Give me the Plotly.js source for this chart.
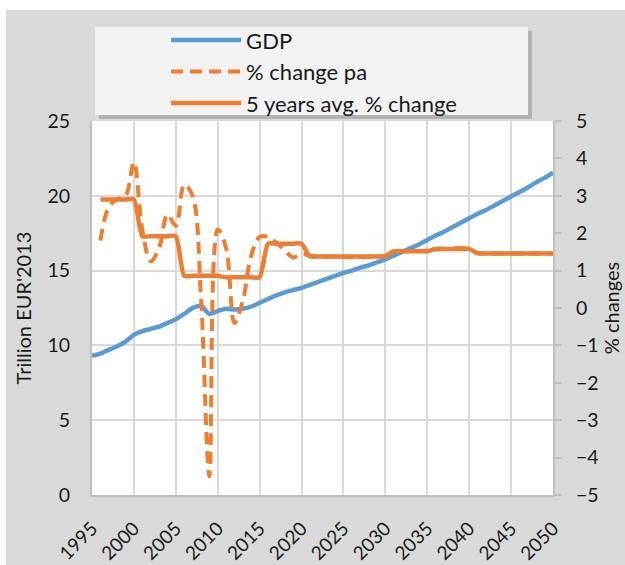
<!DOCTYPE html>
<html><head><meta charset="utf-8">
<script src="https://cdn.plot.ly/plotly-3.0.1.min.js"></script>
<style>html,body{margin:0;padding:0;background:#fff;}#chart{width:625px;height:565px;}</style>
</head><body><div id="chart"></div>
<script>
const years = [1995,1996,1997,1998,1999,2000,2001,2002,2003,2004,2005,2006,2007,2008,2009,2010,2011,2012,2013,2014,2015,2016,2017,2018,2019,2020,2021,2022,2023,2024,2025,2026,2027,2028,2029,2030,2031,2032,2033,2034,2035,2036,2037,2038,2039,2040,2041,2042,2043,2044,2045,2046,2047,2048,2049,2050];
const gdp = [9.3,9.45,9.7,9.95,10.25,10.7,10.95,11.1,11.25,11.5,11.75,12.1,12.5,12.65,12.1,12.3,12.45,12.4,12.45,12.6,12.85,13.1,13.35,13.55,13.7,13.85,14.05,14.25,14.45,14.65,14.85,15.0,15.2,15.35,15.55,15.75,16.0,16.25,16.5,16.75,17.05,17.35,17.6,17.9,18.2,18.5,18.8,19.05,19.35,19.65,19.95,20.25,20.55,20.9,21.2,21.55];
const pctChange = [null,1.8,2.7,2.9,3.0,3.9,2.1,1.25,1.6,2.5,2.2,3.3,3.0,0.3,-4.5,2.1,1.6,-0.4,0.2,1.4,1.9,1.9,1.75,1.55,1.35,1.45,1.4,1.38,1.38,1.37,1.37,1.36,1.36,1.37,1.38,1.4,1.5,1.52,1.52,1.53,1.52,1.56,1.58,1.6,1.6,1.58,1.47,1.47,1.46,1.46,1.46,1.46,1.46,1.46,1.46,1.46];
const avg5 = [null,2.9,2.9,2.9,2.9,2.9,1.92,1.92,1.92,1.92,1.92,0.86,0.86,0.86,0.86,0.86,0.82,0.82,0.82,0.82,0.82,1.72,1.72,1.72,1.72,1.72,1.38,1.38,1.38,1.38,1.38,1.38,1.38,1.38,1.38,1.38,1.52,1.52,1.52,1.52,1.52,1.58,1.58,1.58,1.58,1.58,1.46,1.46,1.46,1.46,1.46,1.46,1.46,1.46,1.46,1.46];
const seriesNames = ['GDP', '% change pa', '5 years avg. % change'];
const leftTitle = "Trillion EUR'2013";
const rightTitle = '% changes';

const FONT = 'Lato, "Open Sans", sans-serif';
const blue = '#5b9bd5', orange = '#ed7d31';
const txt = '#1a1a1a';

const traces = [
  {x: years, y: gdp, name: seriesNames[0], type: 'scatter', mode: 'lines', yaxis: 'y',
   line: {color: blue, width: 4.5, shape: 'spline', smoothing: 0.6}},
  {x: years, y: pctChange, name: seriesNames[1], type: 'scatter', mode: 'lines', yaxis: 'y2',
   line: {color: orange, width: 4, dash: '12px,7px', shape: 'spline', smoothing: 1}},
  {x: years, y: avg5, name: seriesNames[2], type: 'scatter', mode: 'lines', yaxis: 'y2',
   line: {color: orange, width: 4.5, shape: 'spline', smoothing: 0.6}}
];

const W = 461, H = 374; // plot area px
const layout = {
  width: 625, height: 565,
  margin: {l: 92, r: 72, t: 121, b: 70},
  paper_bgcolor: '#d9d9d9', plot_bgcolor: '#ffffff',
  font: {family: FONT, size: 19, color: txt},
  showlegend: true,
  legend: {x: 0.1607, y: 1.2724, xanchor: 'left', yanchor: 'top', bgcolor: 'rgba(0,0,0,0)',
           font: {family: FONT, size: 22, color: txt}, itemwidth: 70, tracegroupgap: 0},
  xaxis: {range: [1995, 2050], tickmode: 'linear', tick0: 1995, dtick: 5, tickangle: -45,
          showgrid: true, gridcolor: '#d9d9d9', gridwidth: 2, zeroline: false,
          showline: true, linecolor: '#bfbfbf', linewidth: 2,
          ticks: 'outside', ticklen: 13, tickcolor: 'rgba(0,0,0,0)',
          tickfont: {family: FONT, size: 19, color: txt}},
  yaxis: {range: [0, 25], tickmode: 'linear', tick0: 0, dtick: 5,
          showgrid: true, gridcolor: '#d9d9d9', gridwidth: 2, zeroline: false,
          showline: true, linecolor: '#bfbfbf', linewidth: 2,
          ticks: 'outside', ticklen: 16, tickcolor: 'rgba(0,0,0,0)',
          tickfont: {family: FONT, size: 19.5, color: txt},
          title: {text: leftTitle, font: {family: FONT, size: 20, color: txt}, standoff: 10}},
  yaxis2: {overlaying: 'y', side: 'right', range: [-5, 5], tickmode: 'linear', tick0: -5, dtick: 1,
           showgrid: false, zeroline: false, showline: true, linecolor: '#bfbfbf', linewidth: 2,
           ticks: 'outside', ticklen: 7, tickwidth: 2, tickcolor: '#bfbfbf', ticklabelstandoff: 10,
           tickfont: {family: FONT, size: 19.5, color: txt},
           title: {text: rightTitle, font: {family: FONT, size: 20, color: txt}, standoff: 6}},
  shapes: [
    {type: 'rect', xref: 'paper', yref: 'paper', x0: -0.21, x1: 1.17, y0: 1 + (121 - 10) / H, y1: 1.34,
     fillcolor: '#ffffff', line: {width: 0}, layer: 'below'},
    {type: 'rect', xref: 'paper', yref: 'paper', x0: -0.21, x1: (6 - 92) / W, y0: -0.2, y1: 1.34,
     fillcolor: '#ffffff', line: {width: 0}, layer: 'below'},
    {type: 'rect', xref: 'paper', yref: 'paper', x0: (99 - 92) / W, x1: (532 - 92) / W,
     y0: 1 + (121 - 119) / H, y1: 1 + (121 - 31) / H, fillcolor: 'rgba(0,0,0,0.18)', line: {width: 0}, layer: 'above'},
    {type: 'rect', xref: 'paper', yref: 'paper', x0: (95 - 92) / W, x1: (528 - 92) / W,
     y0: 1 + (121 - 115) / H, y1: 1 + (121 - 27) / H, fillcolor: '#f2f2f2', line: {width: 0}, layer: 'above'}
  ]
};

Plotly.newPlot('chart', traces, layout, {staticPlot: true, displayModeBar: false});
</script>
</body></html>
